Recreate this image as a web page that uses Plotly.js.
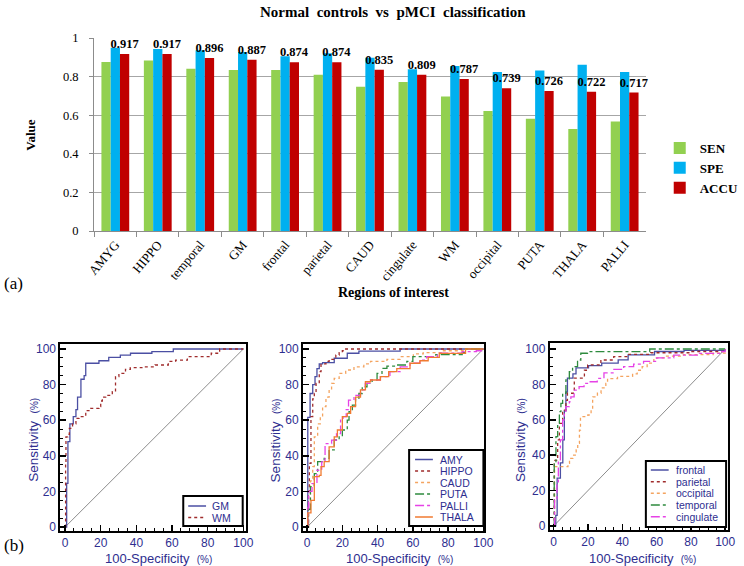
<!DOCTYPE html>
<html><head><meta charset="utf-8">
<script src="https://cdn.plot.ly/plotly-3.0.1.min.js"></script>
<style>html,body{margin:0;padding:0;background:#fff}#chart{width:744px;height:566px}</style>
</head><body><div id="chart"></div>
<script>
const W = 744, H = 566;

// ---------- (a) bar chart data ----------
const regions = ['AMYG','HIPPO','temporal','GM','frontal','parietal','CAUD','cingulate','WM','occipital','PUTA','THALA','PALLI'];
const sen  = [0.876,0.884,0.841,0.834,0.834,0.810,0.748,0.772,0.697,0.622,0.581,0.529,0.567];
const spe  = [0.950,0.943,0.936,0.928,0.905,0.921,0.898,0.838,0.855,0.824,0.831,0.862,0.824];
const accu = [0.917,0.917,0.896,0.887,0.874,0.874,0.835,0.809,0.787,0.739,0.726,0.722,0.717];
const barNames = ['SEN','SPE','ACCU'];

// ---------- (b) ROC curves: [100-specificity, sensitivity] ----------
const rocGM = [[0,0],[0.9,24.5],[1.6,48],[2.7,58],[4.6,62],[6.1,66],[7,73],[8.9,83],[10.7,85],[11.6,92],[19,93.4],[24.5,95.3],[31,96.6],[36.7,97.6],[48.7,98.5],[60.7,100],[100,100]];
const rocWM = [[0,0],[0.3,36],[0.5,50.7],[1.5,52],[2.4,55.4],[4.2,58],[6.1,61],[7.9,62],[11.6,65.4],[14.4,66.7],[19,67.6],[20,70.8],[20.9,73],[22.8,74],[26.5,76],[28.3,84.5],[30.2,86.3],[33.9,88.6],[36.6,89.5],[43.1,90],[50.5,91],[57.9,93],[62,93.8],[68.6,95.7],[82,97.6],[86.7,100],[100,100]];

const rocAMY = [[0,0],[0.4,61.6],[1.7,75],[3.2,80],[4.5,84.5],[5.6,89],[6.9,91.6],[8.8,92.3],[15.4,94.8],[22.8,97.6],[29.4,98.8],[52.8,100],[100,100]];
const rocHIPPO = [[0,0],[0.8,20],[1.3,35.8],[2.2,62],[3.2,72],[4.1,75],[5.1,80.7],[6.9,87.3],[7.9,91.6],[10.7,93],[12.5,94.2],[16.3,96.6],[18.2,98],[20,99],[21.9,100],[100,100]];
const rocCAUD = [[0,0],[0.7,11],[1.9,26],[3.2,34],[4.1,50.7],[6,58],[7.5,62],[8.8,67.6],[10.7,73],[12.5,77],[13.9,80.7],[15.4,83.5],[18.2,86.3],[21.9,88.2],[26.6,90],[32.2,91.6],[36,93],[45.3,94.2],[52.8,95.7],[60.3,97.2],[65.9,98],[76,99],[90,100],[100,100]];
const rocPUTA = [[0,0],[0.8,10],[1.9,22.7],[4.1,30],[6,36.7],[9.7,38.6],[12.5,43.3],[15.4,48.9],[18.2,50.7],[20,54.5],[22.8,60],[23.8,64.8],[25.7,68.5],[27.5,72.3],[29.4,75],[31.3,78.8],[34,80.7],[36.9,82.6],[39.7,86.3],[42.5,89.1],[45.3,90.4],[51,91],[56.6,93],[60,95.7],[73,96.8],[88,98],[90,100],[100,100]];
const rocPALLI = [[0,0],[0.5,11],[0.9,20],[2.8,24.4],[5.6,31.9],[8.3,36.6],[10.2,46.9],[13.9,48.8],[16.7,52.5],[19,60],[20.4,62],[22.2,66],[23.5,71.3],[26.6,74],[30.3,77],[33,80.7],[36,82.6],[41.6,84.5],[47,87.3],[52.8,90],[58.4,92],[64,93.8],[67.8,95.7],[74,97.6],[88,98.5],[96,99],[99,100],[100,100]];
const rocTHALA = [[0,0],[0.4,8],[2.2,15],[4.1,28.3],[6.9,29],[7.9,34],[9.7,36.7],[12.5,45],[15.4,50.7],[17.2,54.5],[20,62],[22.8,63.9],[24.7,67.6],[27.5,73],[30.3,77],[33.1,81.6],[36,82.6],[41.6,84.5],[46.3,87.3],[50.9,89],[58.4,92],[64,93.4],[68.7,95.3],[75,97.5],[89.9,100],[100,100]];

const rocFrontal = [[0,0],[1.2,6],[2,27],[3.9,35.6],[5.3,48.6],[6.2,65],[7.1,75.7],[8,83.6],[11.2,86],[13,89.3],[20.3,90.6],[28,92],[37.6,93.9],[43.4,96.7],[58.8,98.6],[76,99.2],[100,100]];
const rocParietal = [[0,0],[0.3,37],[2.3,48.6],[3.3,58],[5.2,65.5],[7.1,71],[8,75],[12,83.6],[17.9,88],[19.8,91],[27.5,93.8],[35,95.7],[43,97],[56.6,97.9],[80,98.6],[100,100]];
const rocOccipital = [[0,0],[0.5,33.5],[8.3,35.4],[9.2,38.2],[11.2,40],[13.1,43],[14,46.7],[15,54.2],[15.6,61.8],[19.9,62.7],[21.8,65.5],[22.7,73],[25.5,75],[27.6,78],[30.4,80.5],[31.4,83.3],[37.2,84.5],[46,86],[48.7,88],[51.6,90],[54.5,92],[58.4,95],[65,96],[75.6,96.8],[93,97.7],[100,100]];
const rocTemporal = [[0,0],[0.3,35.4],[1.3,50.5],[2.3,58],[3.3,64.6],[4.2,69.3],[5.2,75],[7.1,82.5],[9.1,87.2],[11,90],[13.9,93.8],[15.8,97.6],[19.7,98.5],[56,100],[100,100]];
const rocCingulate = [[0,0],[0.5,14.7],[1.9,24],[2.7,37.3],[3.9,48.6],[5.2,60],[6.2,63.7],[7.1,67.4],[9.1,70.2],[10,73],[11.9,76.8],[14.8,78.7],[17.7,80.6],[19.7,81.5],[25.4,83.4],[29.3,86.5],[35.1,88.5],[40.8,90],[46.6,91.5],[52.4,93],[60.1,95],[70,96.5],[85,97.5],[98,98.5],[100,100]];

const diagX = [0,100], diagY = [0,100];

// ---------- styles ----------
const serif = 'Liberation Serif, Times New Roman, serif';
const sans = 'Liberation Sans, Arial, sans-serif';
const navyText = '#2e2e8f';
const barColors = ['#92d050','#00b0f0','#c00000'];
const C = {navy:'#4b4fa3', red:'#a02c2c', lor:'#f4a460', green:'#2e8b3e', mag:'#e642e6', org:'#f07a30'};

const panels = [
  {ax:'2', curves:[['GM',rocGM,C.navy,'solid'],['WM',rocWM,C.red,'dot']],
   box:[61,248,344,531], xr:[-2.6,101.3], yr:[-2.2,102.8], ytx:33, xtx:160,
   leg:{x0:185,x1:245,y0:496,y1:526, ly:[506,517.5], lx0:190, lx1:208, tx:213}},
  {ax:'3', curves:[['AMY',rocAMY,C.navy,'solid'],['HIPPO',rocHIPPO,C.red,'dot'],['CAUD',rocCAUD,C.lor,'dot'],['PUTA',rocPUTA,C.green,'dashdot'],['PALLI',rocPALLI,C.mag,'dashdot'],['THALA',rocTHALA,C.org,'solid']],
   box:[306,489,344,531], xr:[-2.25,100.6], yr:[-2.2,102.8], ytx:278, xtx:403,
   leg:{x0:413,x1:488,y0:450,y1:526, ly:[459.5,471,482.5,494,505.5,517], lx0:419, lx1:437, tx:443}},
  {ax:'4', curves:[['frontal',rocFrontal,C.navy,'solid'],['parietal',rocParietal,C.red,'dot'],['occipital',rocOccipital,C.lor,'dot'],['temporal',rocTemporal,C.green,'dashdot'],['cingulate',rocCingulate,C.mag,'dashdot']],
   box:[555,735,343,530], xr:[-2.3,101.7], yr:[-2.3,103.4], ytx:525, xtx:649,
   leg:{x0:652,x1:733,y0:461,y1:527, ly:[470,481.7,493.3,505,516.7], lx0:657, lx1:675, tx:681}}
];

const px = p => p / W;
const py = p => 1 - p / H;

// ---------- traces ----------
const data = [];
[sen, spe, accu].forEach((vals, i) => {
  const tr = {type:'bar', name:barNames[i], x:regions, y:vals, xaxis:'x', yaxis:'y',
    marker:{color:barColors[i]}, hoverinfo:'skip'};
  if (i === 2) {
    tr.text = vals.map(v => v.toFixed(3));
    tr.textposition = 'outside';
    tr.constraintext = 'none';
    tr.cliponaxis = false;
    tr.textfont = {family:serif, size:12.5, color:'#000', weight:'bold'};
  }
  data.push(tr);
});

const shapes = [];
const annotations = [];

panels.forEach(p => {
  data.push({type:'scatter', mode:'lines', x:diagX, y:diagY, xaxis:'x'+p.ax, yaxis:'y'+p.ax,
    line:{color:'#8c8c8c', width:1}, showlegend:false, hoverinfo:'skip'});
  p.curves.forEach(c => {
    data.push({type:'scatter', mode:'lines', name:c[0], x:c[1].map(d=>d[0]), y:c[1].map(d=>d[1]),
      xaxis:'x'+p.ax, yaxis:'y'+p.ax, line:{color:c[2], width:1.3, dash:c[3], shape:'hv'},
      showlegend:false, hoverinfo:'skip'});
  });
  const L = p.leg;
  shapes.push({type:'rect', xref:'paper', yref:'paper', x0:px(L.x0), x1:px(L.x1), y0:py(L.y1), y1:py(L.y0),
    line:{color:'#000', width:2}, fillcolor:'#fff', layer:'above'});
  p.curves.forEach((c, k) => {
    shapes.push({type:'line', xref:'paper', yref:'paper', x0:px(L.lx0), x1:px(L.lx1), y0:py(L.ly[k]), y1:py(L.ly[k]),
      line:{color:c[2], width:1.5, dash:c[3]}, layer:'above'});
    annotations.push({xref:'paper', yref:'paper', x:px(L.tx), y:py(L.ly[k]), xanchor:'left', yanchor:'middle',
      text:c[0], showarrow:false, borderpad:0, font:{family:sans, size:10.5, color:navyText}});
  });
  annotations.push({xref:'paper', yref:'paper', x:px(p.ytx), y:py(440), textangle:-90, xanchor:'center', yanchor:'middle',
    text:'Sensitivity  <span style="font-size:10px">(%)</span>', showarrow:false, font:{family:sans, size:13.5, color:navyText}});
  annotations.push({xref:'paper', yref:'paper', x:px(p.xtx), y:py(558), xanchor:'center', yanchor:'middle', borderpad:0,
    text:'100-Specificity  <span style="font-size:10px">(%)</span>', showarrow:false, font:{family:sans, size:13, color:navyText}});
});

annotations.push(
  {xref:'paper', yref:'paper', x:px(397), y:py(12), xanchor:'center', yanchor:'middle', showarrow:false,
   text:'Normal  controls  vs  pMCI  classification', font:{family:serif, size:15, weight:'bold', color:'#000'}},
  {xref:'paper', yref:'paper', x:px(30), y:py(135), xanchor:'center', yanchor:'middle', showarrow:false, textangle:-90,
   text:'Value', font:{family:serif, size:13, weight:'bold', color:'#000'}},
  {xref:'paper', yref:'paper', x:px(397), y:py(292), xanchor:'center', yanchor:'middle', showarrow:false,
   text:'Regions of interest', font:{family:serif, size:14, weight:'bold', color:'#000'}},
  {xref:'paper', yref:'paper', x:px(14), y:py(283), xanchor:'center', yanchor:'middle', showarrow:false,
   text:'(a)', font:{family:serif, size:17, color:'#000'}},
  {xref:'paper', yref:'paper', x:px(14), y:py(545), xanchor:'center', yanchor:'middle', showarrow:false,
   text:'(b)', font:{family:serif, size:17, color:'#000'}}
);

const layout = {
  width:W, height:H, margin:{l:0,r:0,t:0,b:0}, paper_bgcolor:'#fff', plot_bgcolor:'#fff',
  barmode:'group', bargap:0.345, bargroupgap:0,
  font:{family:serif, color:'#000'},
  xaxis:{domain:[px(95), px(652)], anchor:'y', type:'category', tickangle:-50, tickson:'boundaries',
    ticks:'outside', ticklen:5, tickcolor:'#8c8c8c', showline:true, linecolor:'#8c8c8c', linewidth:1,
    tickfont:{family:serif, size:13, color:'#000'}, showgrid:false},
  yaxis:{domain:[py(231), py(38)], anchor:'x', range:[0,1], dtick:0.2, showgrid:true, gridcolor:'#a6a6a6',
    showline:true, linecolor:'#8c8c8c', ticks:'outside', ticklen:4, tickcolor:'#8c8c8c', zeroline:false,
    ticklabelstandoff:8, tickfont:{family:serif, size:12.5, color:'#000'}},
  legend:{x:px(666), y:py(133), xanchor:'left', yanchor:'top', bgcolor:'rgba(0,0,0,0)',
    font:{family:serif, size:13, weight:'bold', color:'#000'}},
  shapes:shapes, annotations:annotations
};

panels.forEach(p => {
  const common = {showline:true, mirror:true, linewidth:2, linecolor:'#000', showgrid:false, zeroline:false,
    ticks:'inside', ticklen:6, tickwidth:1.5, tickcolor:'#000', dtick:20, tick0:0,
    tickfont:{family:sans, size:12, color:navyText},
    minor:{dtick:5, ticks:'inside', ticklen:3, tickcolor:'#000', tickwidth:1}};
  layout['xaxis'+p.ax] = Object.assign({}, common, {domain:[px(p.box[0]), px(p.box[1])], range:p.xr, anchor:'y'+p.ax});
  layout['yaxis'+p.ax] = Object.assign({}, common, {domain:[py(p.box[3]), py(p.box[2])], range:p.yr, anchor:'x'+p.ax});
});

Plotly.newPlot('chart', data, layout, {staticPlot:true, displayModeBar:false});
</script>
</body></html>
